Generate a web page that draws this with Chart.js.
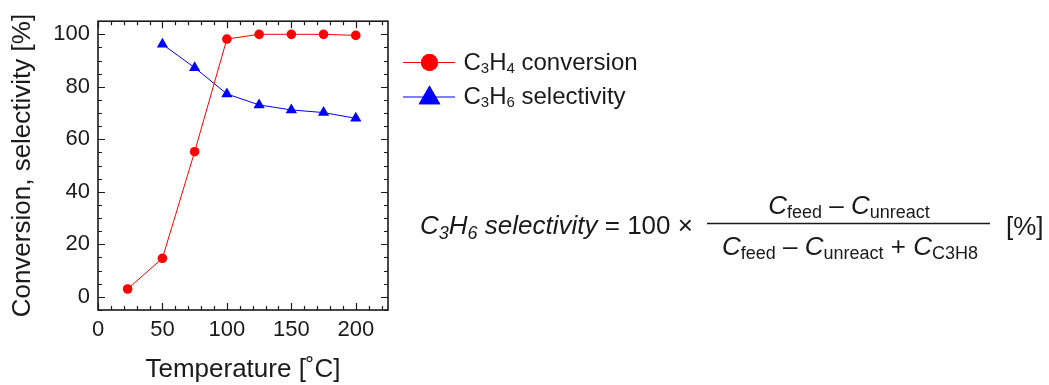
<!DOCTYPE html>
<html>
<head>
<meta charset="utf-8">
<script src="https://cdn.jsdelivr.net/npm/chart.js@4"></script>
<style>
  html, body { margin: 0; padding: 0; background: #ffffff; }
  #wrap { width: 1049px; height: 385px; position: relative; }
</style>
</head>
<body>
<div id="wrap"><canvas id="c" width="1049" height="385"></canvas></div>
<script>
// ---- data ----
const convTemps = [23, 50, 75, 100, 125, 150, 175, 200];
const conversion = [3, 14.7, 55.3, 98.2, 100, 100, 100, 99.6];
const selTemps = [50, 75, 100, 125, 150, 175, 200];
const selectivity = [96.2, 87.3, 77.3, 73.1, 71.2, 70.2, 68.0];
const xTickValues = [0, 50, 100, 150, 200];
const yTickValues = [0, 20, 40, 60, 80, 100];
const xMinorStep = 10;
const yMinorStep = 5;
const xTitle = 'Temperature [˚C]';
const yTitle = 'Conversion, selectivity [%]';

const FONT = '"Liberation Sans", Arial, sans-serif';
const INK = '#1a1a1a';

function drawRuns(ctx, runs, x, y, align) {
  let total = 0;
  runs.forEach(r => { ctx.font = r.font; total += ctx.measureText(r.t).width; });
  let cx = align === 'center' ? x - total / 2 : x;
  ctx.textBaseline = 'alphabetic';
  ctx.textAlign = 'left';
  runs.forEach(r => {
    ctx.font = r.font;
    ctx.fillText(r.t, cx, y + (r.dy || 0));
    cx += ctx.measureText(r.t).width;
  });
}

const framePlugin = {
  id: 'frame',
  afterDatasetsDraw(chart) {
    const ctx = chart.ctx;
    const a = chart.chartArea;
    const xs = chart.scales.x, ys = chart.scales.y;
    ctx.save();
    ctx.strokeStyle = INK;
    ctx.lineWidth = 1.6;
    ctx.strokeRect(a.left, a.top, a.right - a.left, a.bottom - a.top);
    ctx.lineWidth = 1.2;
    ctx.beginPath();
    for (let v = xs.min; v <= xs.max + 1e-9; v += xMinorStep) {
      const px = Math.round(xs.getPixelForValue(v)) + 0.5;
      const len = (v % 50 === 0) ? 7 : 4;
      ctx.moveTo(px, a.bottom); ctx.lineTo(px, a.bottom - len);
      ctx.moveTo(px, a.top); ctx.lineTo(px, a.top + len);
    }
    for (let v = ys.min; v <= ys.max + 1e-9; v += yMinorStep) {
      const py = Math.round(ys.getPixelForValue(v)) + 0.5;
      const len = (Math.abs(v % 20) < 1e-9) ? 7 : 4;
      ctx.moveTo(a.left, py); ctx.lineTo(a.left + len, py);
      ctx.moveTo(a.right, py); ctx.lineTo(a.right - len, py);
    }
    ctx.stroke();
    ctx.restore();
  },
  afterDraw(chart) {
    const ctx = chart.ctx;
    ctx.save();
    // legend
    const ds = chart.data.datasets;
    const rows = [
      { y: 62.5, base: 69.5, sub1: '3', sub2: '4', rest: ' conversion' },
      { y: 97, base: 104, sub1: '3', sub2: '6', rest: ' selectivity' }
    ];
    rows.forEach((r, i) => {
      const d = ds[i];
      ctx.strokeStyle = d.borderColor;
      ctx.lineWidth = 1;
      ctx.beginPath();
      ctx.moveTo(403, r.y); ctx.lineTo(455, r.y);
      ctx.stroke();
      ctx.fillStyle = d.pointBackgroundColor;
      Chart.helpers.drawPoint(ctx, {
        pointStyle: d.pointStyle, radius: i === 0 ? 8.5 : 12.5, rotation: 0, borderWidth: 0
      }, 429.5, i === 0 ? r.y : r.y + 1);
      ctx.fill();
      ctx.fillStyle = INK;
      const big = '24px ' + FONT, small = '15px ' + FONT;
      drawRuns(ctx, [
        { t: 'C', font: big }, { t: r.sub1, font: small, dy: 3 },
        { t: 'H', font: big }, { t: r.sub2, font: small, dy: 3 },
        { t: r.rest, font: big }
      ], 463.5, r.base, 'left');
    });
    // formula
    ctx.fillStyle = INK;
    const it = 'italic 26px ' + FONT, itS = 'italic 18px ' + FONT;
    const rg = '26px ' + FONT, rgS = '18px ' + FONT;
    drawRuns(ctx, [
      { t: 'C', font: it }, { t: '3', font: itS, dy: 5 },
      { t: 'H', font: it }, { t: '6', font: itS, dy: 5 },
      { t: ' selectivity', font: it }, { t: ' = 100 ×', font: rg }
    ], 420, 233.5, 'left');
    drawRuns(ctx, [
      { t: 'C', font: it }, { t: 'feed', font: rgS, dy: 4 },
      { t: ' – ', font: rg },
      { t: 'C', font: it }, { t: 'unreact', font: rgS, dy: 4 }
    ], 849, 213.5, 'center');
    drawRuns(ctx, [
      { t: 'C', font: it }, { t: 'feed', font: rgS, dy: 4 },
      { t: ' – ', font: rg },
      { t: 'C', font: it }, { t: 'unreact', font: rgS, dy: 4 },
      { t: ' + ', font: rg },
      { t: 'C', font: it }, { t: 'C3H8', font: rgS, dy: 4 }
    ], 850, 255, 'center');
    ctx.strokeStyle = INK;
    ctx.lineWidth = 1.5;
    ctx.beginPath();
    ctx.moveTo(707, 223.5); ctx.lineTo(990, 223.5);
    ctx.stroke();
    drawRuns(ctx, [{ t: '[%]', font: rg }], 1006, 234.5, 'left');
    ctx.restore();
  }
};

new Chart(document.getElementById('c'), {
  type: 'scatter',
  data: {
    datasets: [
      {
        label: 'C3H4 conversion',
        data: convTemps.map((t, i) => ({ x: t, y: conversion[i] })),
        showLine: true,
        borderColor: '#ff0000',
        borderWidth: 1,
        pointStyle: 'circle',
        pointRadius: 4.8,
        pointBackgroundColor: '#ff0000',
        pointBorderWidth: 0
      },
      {
        label: 'C3H6 selectivity',
        data: selTemps.map((t, i) => ({ x: t, y: selectivity[i] })),
        showLine: true,
        borderColor: '#0000ff',
        borderWidth: 1,
        pointStyle: 'triangle',
        pointRadius: 6.5,
        pointBackgroundColor: '#0000ff',
        pointBorderWidth: 0
      }
    ]
  },
  options: {
    responsive: false,
    animation: false,
    events: [],
    layout: { padding: { left: 0, top: 21, right: 661, bottom: 0 } },
    plugins: { legend: { display: false }, tooltip: { enabled: false } },
    scales: {
      x: {
        type: 'linear', min: 0, max: 225,
        grid: { display: false, drawTicks: false },
        border: { display: false },
        afterBuildTicks: s => { s.ticks = xTickValues.map(v => ({ value: v })); },
        afterFit: s => { s.height = 75; },
        ticks: { color: INK, font: { family: FONT, size: 22 }, padding: 7, maxRotation: 0 },
        title: { display: true, text: xTitle, color: INK, font: { family: FONT, size: 26 }, padding: { top: 0, bottom: 0 } }
      },
      y: {
        type: 'linear', min: -5, max: 105,
        grid: { display: false, drawTicks: false },
        border: { display: false },
        afterBuildTicks: s => { s.ticks = yTickValues.map(v => ({ value: v })); },
        afterFit: s => { s.width = 98; },
        ticks: { color: INK, font: { family: FONT, size: 22 }, padding: 8 },
        title: { display: true, text: yTitle, color: INK, font: { family: FONT, size: 26 }, padding: { top: 7, bottom: 0 } }
      }
    }
  },
  plugins: [framePlugin]
});
</script>
</body>
</html>
